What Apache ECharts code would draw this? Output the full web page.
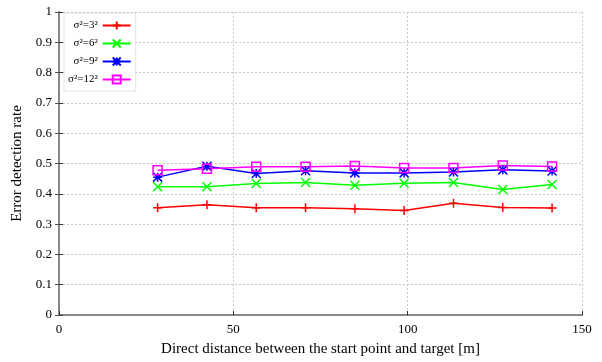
<!DOCTYPE html>
<html>
<head>
<meta charset="utf-8">
<script src="https://cdn.jsdelivr.net/npm/echarts@6/dist/echarts.min.js"></script>
<style>
  html, body { margin: 0; padding: 0; background: #fff; }
  #chart { width: 602px; height: 362px; }
</style>
</head>
<body>
<div id="chart"></div>
<script>
// Direct distance between start point and target [m]
const distances = [28.28, 42.43, 56.57, 70.71, 84.85, 98.99, 113.14, 127.28, 141.42];

// Error detection rate per noise variance
const seriesNames = ['σ²=3²', 'σ²=6²', 'σ²=9²', 'σ²=12²'];
const rate3  = [0.354, 0.364, 0.354, 0.354, 0.351, 0.345, 0.369, 0.355, 0.353];
const rate6  = [0.423, 0.423, 0.434, 0.437, 0.428, 0.435, 0.437, 0.414, 0.431];
const rate9  = [0.455, 0.491, 0.467, 0.476, 0.469, 0.469, 0.472, 0.479, 0.475];
const rate12 = [0.478, 0.483, 0.489, 0.489, 0.492, 0.485, 0.485, 0.493, 0.490];

const xTicks = [0, 50, 100, 150];
const yTicks = [0, 0.1, 0.2, 0.3, 0.4, 0.5, 0.6, 0.7, 0.8, 0.9, 1];

const colors = ['#ff0000', '#00ff00', '#0000ff', '#ff00ff'];
const symbols = [
  'path://M5,0 L5,10 M0,5 L10,5',
  'path://M0,0 L10,10 M10,0 L0,10',
  'path://M0,0 L10,10 M10,0 L0,10 M5,0 L5,10 M0,5 L10,5',
  'path://M0,0 L10,0 L10,10 L0,10 Z'
];
const values = [rate3, rate6, rate9, rate12];

const serif = '"Liberation Serif", "DejaVu Serif", serif';

const series = seriesNames.map((name, i) => ({
  name: name,
  type: 'line',
  data: distances.map((d, j) => [d, values[i][j]]),
  symbol: symbols[i],
  symbolSize: 9,
  showAllSymbol: true,
  lineStyle: { color: colors[i], width: 1.5 },
  itemStyle: { color: 'none', borderColor: colors[i], borderWidth: 1.5 },
  emphasis: { disabled: true },
  animation: false
}));

const chart = echarts.init(document.getElementById('chart'), null, { renderer: 'canvas' });
chart.setOption({
  backgroundColor: '#fff',
  animation: false,
  grid: { left: 59, right: 20, top: 12, bottom: 44, containLabel: false },
  legend: {
    orient: 'vertical',
    left: 64,
    top: 13,
    align: 'right',
    itemWidth: 28,
    itemHeight: 10,
    itemGap: 5,
    padding: [6, 4, 5, 4],
    backgroundColor: '#fff',
    borderColor: '#c8c8c8',
    borderWidth: 1,
    borderType: 'dotted',
    textStyle: { fontFamily: serif, fontSize: 11, color: '#000', padding: [0, 0, 0, 0] },
    data: seriesNames,
    selectedMode: false
  },
  xAxis: [{
    type: 'value',
    min: 0, max: 150, interval: 50,
    name: 'Direct distance between the start point and target [m]',
    nameLocation: 'middle',
    nameGap: 27,
    nameTextStyle: { fontFamily: serif, fontSize: 15, color: '#000' },
    axisLine: { show: true, lineStyle: { color: '#333', width: 1 } },
    axisTick: { show: true, inside: true, length: 4, lineStyle: { color: '#333' } },
    axisLabel: { fontFamily: serif, fontSize: 13, color: '#000', margin: 8,
      formatter: v => xTicks.includes(v) ? String(v) : '' },
    splitLine: { show: true, lineStyle: { color: '#c8c8c8', type: [2, 2], width: 1 } }
  }, {
    type: 'value', position: 'top',
    min: 0, max: 150, interval: 50,
    axisLine: { show: true, lineStyle: { color: '#888', width: 2 } },
    axisTick: { show: false }, axisLabel: { show: false }, splitLine: { show: false }
  }],
  yAxis: [{
    type: 'value',
    min: 0, max: 1, interval: 0.1,
    name: 'Error detection rate',
    nameLocation: 'middle',
    nameGap: 27,
    nameTextStyle: { fontFamily: serif, fontSize: 15, color: '#000' },
    axisLine: { show: true, lineStyle: { color: '#333', width: 1 } },
    axisTick: { show: true, inside: true, length: 4, lineStyle: { color: '#333' } },
    axisLabel: { fontFamily: serif, fontSize: 13, color: '#000', margin: 7,
      formatter: v => String(Math.round(v * 10) / 10) },
    splitLine: { show: true, lineStyle: { color: '#c8c8c8', type: [2, 2], width: 1 } }
  }, {
    type: 'value', position: 'right',
    min: 0, max: 1, interval: 0.1,
    axisLine: { show: true, lineStyle: { color: '#888', width: 2 } },
    axisTick: { show: true, inside: true, length: 4, lineStyle: { color: '#555' } },
    axisLabel: { show: false }, splitLine: { show: false }
  }],
  series: series
});
</script>
</body>
</html>
